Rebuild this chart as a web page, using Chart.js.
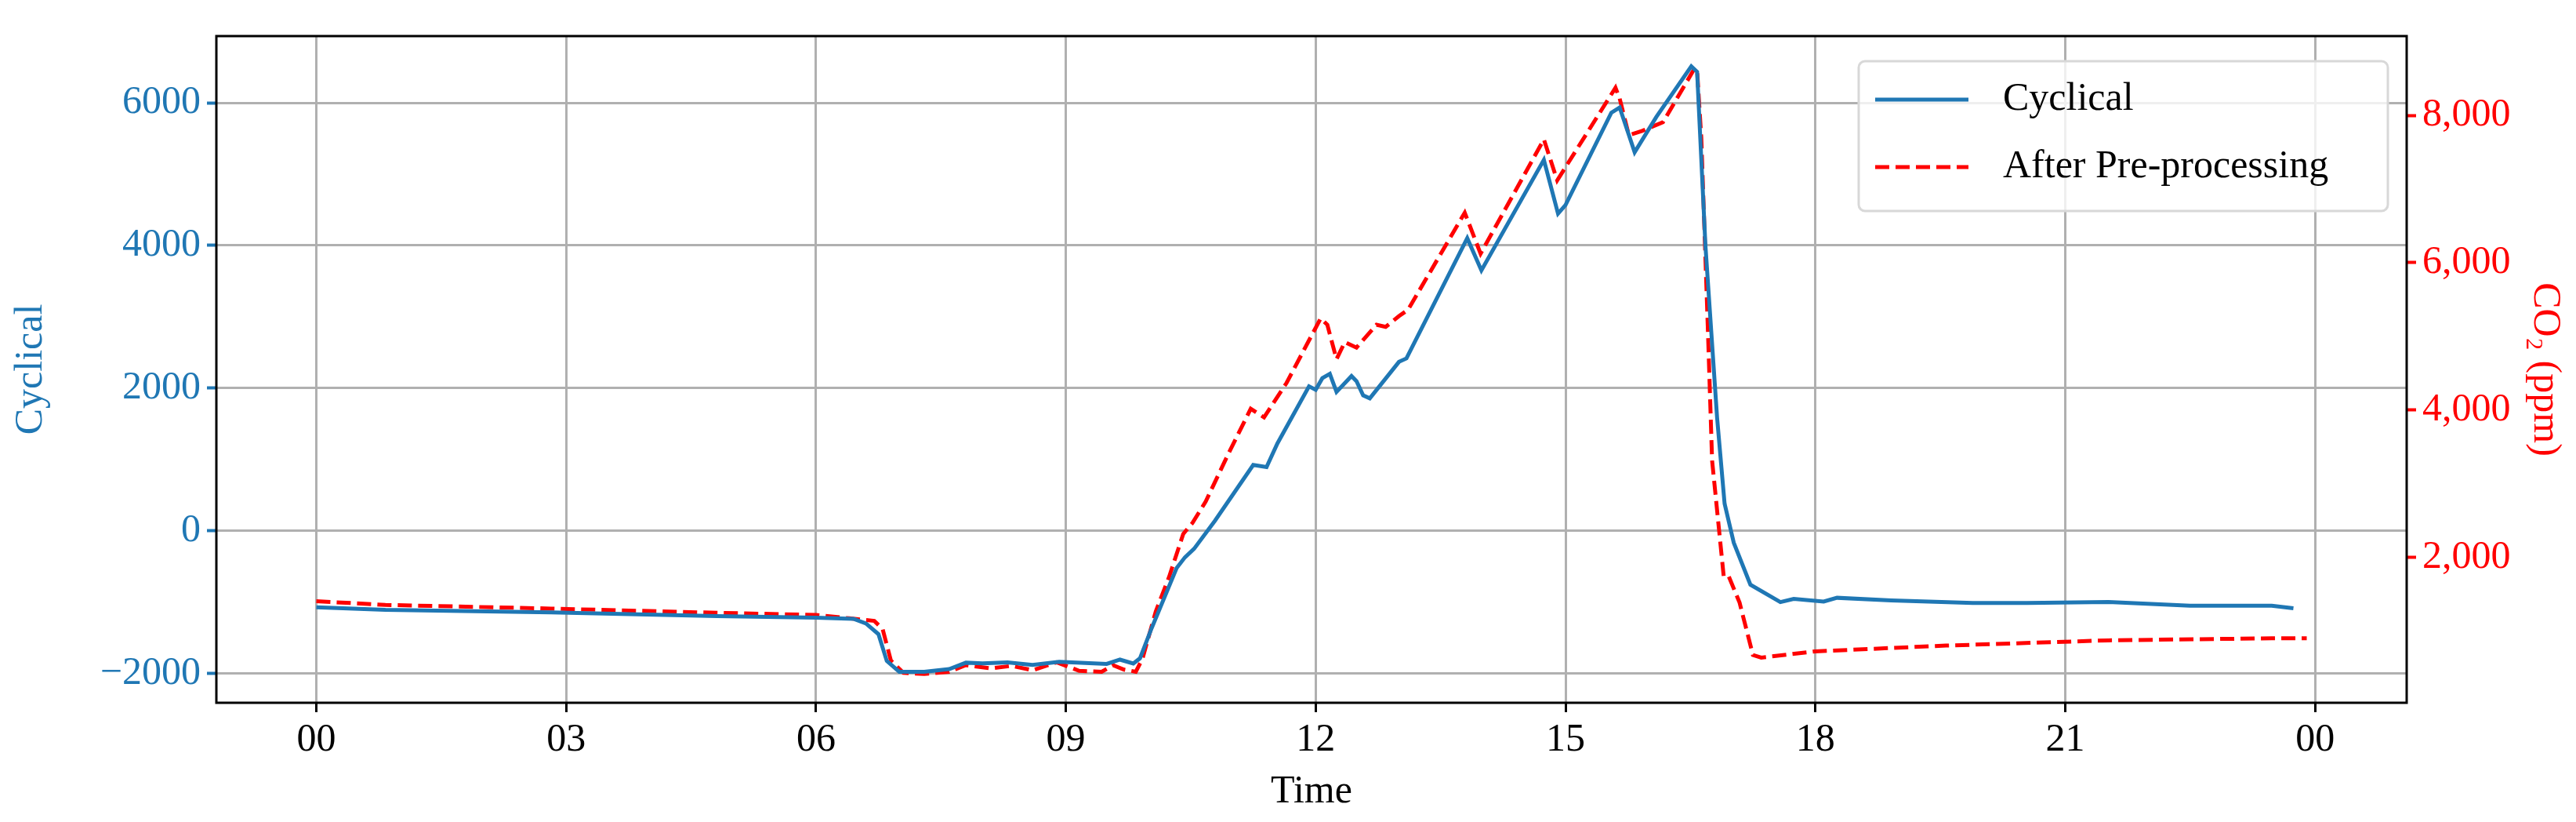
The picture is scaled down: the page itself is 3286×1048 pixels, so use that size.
<!DOCTYPE html>
<html>
<head>
<meta charset="utf-8">
<script src="https://cdn.jsdelivr.net/npm/chart.js@4"></script>
<style>
  html, body { margin: 0; padding: 0; background: #fff; }
  #wrap { width: 3286px; height: 1048px; }
</style>
</head>
<body>
<div id="wrap"><canvas id="myChart"></canvas></div>
<script>
// hours since midnight
var cycHours = [0, 0.83, 2.82, 4.81, 6.0, 6.45, 6.6, 6.75, 6.85, 7.0, 7.3, 7.6, 7.8, 8.0, 8.3, 8.6, 8.92, 9.49, 9.65, 9.81, 9.89, 10.03,
  10.33, 10.43, 10.54, 10.79, 11.25, 11.41, 11.54, 11.92, 12.0, 12.08, 12.17, 12.25, 12.43, 12.49, 12.57, 12.65, 13.0, 13.09,
  13.82, 13.99, 14.74, 14.91, 15.0, 15.55, 15.65, 15.83, 16.09, 16.51, 16.58, 16.68, 16.82, 16.91, 17.02, 17.22, 17.58, 17.74,
  18.1, 18.26, 18.91, 19.89, 20.54, 21.52, 22.5, 23.48, 23.74];
var cycValues = [-1073, -1110, -1146, -1198, -1220, -1235, -1300, -1450, -1825, -1977, -1977, -1940, -1850, -1860, -1845, -1880, -1837, -1867, -1807, -1861, -1789, -1367,
  -524, -373, -253, 139, 922, 892, 1223, 2024, 1976, 2139, 2199, 1946, 2169, 2096, 1898, 1856, 2368, 2416,
  4102, 3651, 5199, 4446, 4566, 5861, 5934, 5307, 5801, 6512, 6434, 3994, 1584, 380, -168, -757, -1000, -955,
  -992, -940, -977, -1014, -1014, -1000, -1051, -1051, -1088];

var co2Hours = [0, 0.83, 2.82, 4.81, 6.0, 6.4, 6.7, 6.8, 6.9, 7.05, 7.3, 7.6, 7.8, 8.1, 8.35, 8.6, 8.89, 9.16, 9.43, 9.57, 9.7, 9.84, 9.92,
  10.08, 10.24, 10.41, 10.52, 10.68, 10.95, 11.22, 11.38, 11.65, 12.06, 12.14, 12.25, 12.35, 12.49, 12.73, 12.84, 13.0, 13.11,
  13.79, 13.98, 14.74, 14.9, 15.6, 15.65, 15.76, 15.92, 16.17, 16.55, 16.58, 16.63, 16.71, 16.76, 16.9, 16.96, 17.09, 17.25,
  17.35, 18.0, 19.57, 21.52, 23.48, 23.9];
var co2Values = [1407, 1357, 1307, 1250, 1220, 1175, 1140, 1030, 600, 435, 420, 450, 540, 495, 530, 470, 579, 462, 450, 538, 479, 450, 626,
  1269, 1737, 2321, 2468, 2760, 3403, 4018, 3901, 4368, 5246, 5158, 4690, 4924, 4848, 5158, 5129, 5275, 5363,
  6679, 6123, 7673, 7117, 8374, 8228, 7731, 7789, 7906, 8637, 8608, 7702, 5070, 3316, 1737, 1744, 1388, 677,
  641, 727, 805, 876, 904, 904];

var xTicks = [0, 3, 6, 9, 12, 15, 18, 21, 24];
var leftTicks = [-2000, 0, 2000, 4000, 6000];
var rightTicks = [2000, 4000, 6000, 8000];

var BLUE = '#1f77b4';
var RED = '#ff0000';
var FONT = '"Liberation Serif", "DejaVu Serif", serif';

function pts(xs, ys) {
  return xs.map(function (x, i) { return { x: x, y: ys[i] }; });
}
function fixTicks(list) {
  return function (axis) { axis.ticks = list.map(function (v) { return { value: v }; }); };
}

// frame + legend drawn inside the plot like matplotlib
var framePlugin = {
  id: 'frame',
  afterDraw: function (chart) {
    var c = chart.ctx, a = chart.chartArea;
    c.save();
    c.strokeStyle = '#000';
    c.lineWidth = 3;
    c.strokeRect(a.left, a.top, a.right - a.left, a.bottom - a.top);

    // legend box
    var bx = 2371, by = 78, bw = 675, bh = 191;
    c.fillStyle = 'rgba(255,255,255,0.8)';
    c.strokeStyle = '#d8d8d8';
    c.lineWidth = 3;
    c.beginPath();
    c.roundRect(bx, by, bw, bh, 8);
    c.fill();
    c.stroke();

    c.lineWidth = 5;
    c.strokeStyle = BLUE;
    c.setLineDash([]);
    c.beginPath(); c.moveTo(2392, 127); c.lineTo(2511, 127); c.stroke();
    c.strokeStyle = RED;
    c.setLineDash([18, 8]);
    c.beginPath(); c.moveTo(2392, 213); c.lineTo(2511, 213); c.stroke();
    c.setLineDash([]);

    c.fillStyle = '#000';
    c.font = '50px ' + FONT;
    c.textBaseline = 'middle';
    c.fillText('Cyclical', 2555, 127);
    c.fillText('After Pre-processing', 2555, 213);
    c.restore();
  }
};

new Chart('myChart', {
  type: 'line',
  data: {
    datasets: [{
      label: 'Cyclical',
      data: pts(cycHours, cycValues),
      borderColor: BLUE,
      borderWidth: 5,
      pointRadius: 0,
      tension: 0,
      yAxisID: 'y'
    }, {
      label: 'After Pre-processing',
      data: pts(co2Hours, co2Values),
      borderColor: RED,
      borderWidth: 5,
      borderDash: [18, 8],
      pointRadius: 0,
      tension: 0,
      yAxisID: 'y2'
    }]
  },
  plugins: [framePlugin],
  options: {
    responsive: true,
    maintainAspectRatio: false,
    animation: false,
    devicePixelRatio: 1,
    layout: { padding: { top: 46, bottom: 8 } },
    plugins: { legend: { display: false }, tooltip: { enabled: false } },
    scales: {
      x: {
        type: 'linear',
        min: -1.2,
        max: 25.1,
        afterBuildTicks: fixTicks(xTicks),
        ticks: {
          color: '#000', font: { family: FONT, size: 50 }, padding: 6,
          callback: function (v) { return String(((v % 24) + 24) % 24).padStart(2, '0'); }
        },
        grid: { color: '#b0b0b0', lineWidth: 3, tickLength: 12, tickColor: '#000', tickWidth: 3 },
        border: { display: false },
        title: { display: true, text: 'Time', color: '#000', font: { family: FONT, size: 50 }, padding: 0 }
      },
      y: {
        position: 'left',
        min: -2412,
        max: 6935,
        afterBuildTicks: fixTicks(leftTicks),
        afterFit: function (axis) { axis.width = 276; },
        ticks: {
          color: BLUE, font: { family: FONT, size: 50 }, padding: 8,
          callback: function (v) { return v < 0 ? '\u2212' + Math.abs(v) : String(v); }
        },
        grid: { color: '#b0b0b0', lineWidth: 3, tickLength: 12, tickColor: BLUE, tickWidth: 4 },
        border: { display: false },
        title: { display: true, text: 'Cyclical', color: BLUE, font: { family: FONT, size: 50 }, padding: 10 }
      },
      y2: {
        position: 'right',
        min: 29,
        max: 9075,
        afterBuildTicks: fixTicks(rightTicks),
        afterFit: function (axis) { axis.width = 216; },
        ticks: { color: RED, font: { family: FONT, size: 50 }, padding: 8 },
        grid: { drawOnChartArea: false, tickLength: 12, tickColor: RED, tickWidth: 4 },
        border: { display: false },
        title: { display: true, text: 'CO\u2082 (ppm)', color: RED, font: { family: FONT, size: 50 }, padding: 10 }
      }
    }
  }
});
</script>
</body>
</html>
